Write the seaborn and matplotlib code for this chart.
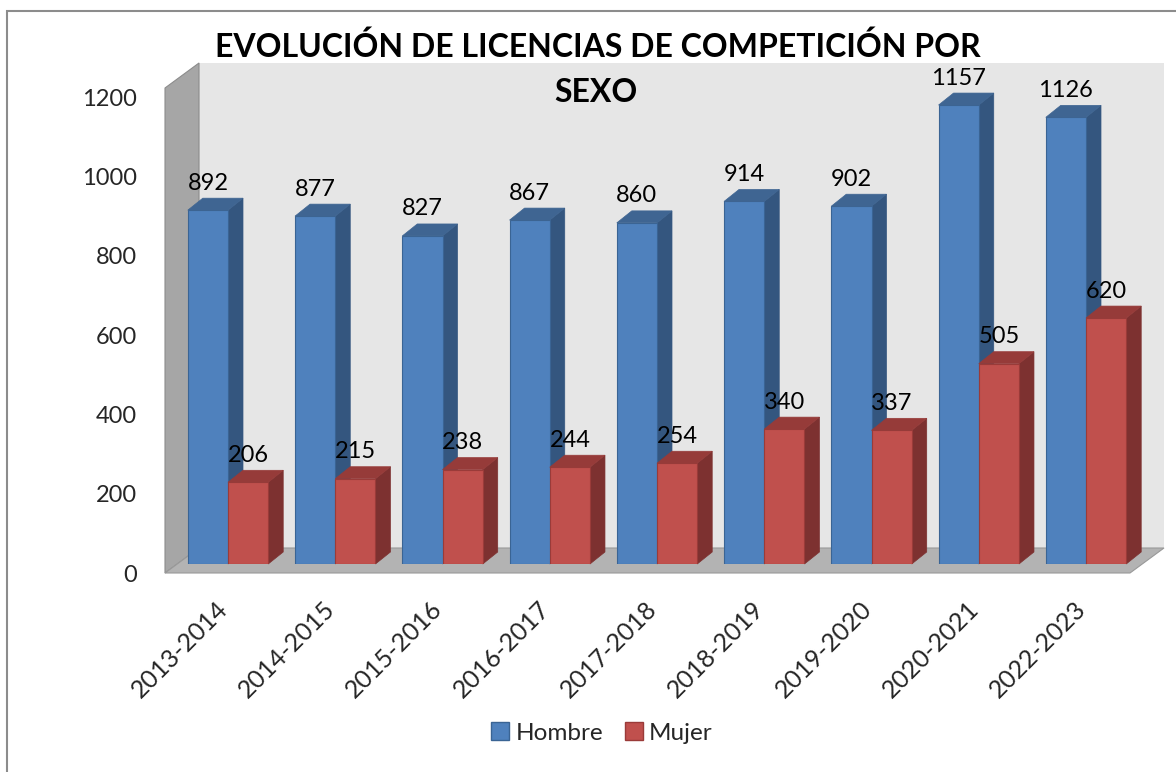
import matplotlib
matplotlib.use("Agg")
import matplotlib.pyplot as plt
import matplotlib.transforms as mtransforms
from matplotlib.patches import Polygon, Rectangle, Patch
import seaborn as sns
import pandas as pd

seasons = ["2013-2014", "2014-2015", "2015-2016", "2016-2017", "2017-2018",
           "2018-2019", "2019-2020", "2020-2021", "2022-2023"]
hombre = [892, 877, 827, 867, 860, 914, 902, 1157, 1126]
mujer = [206, 215, 238, 244, 254, 340, 337, 505, 620]
series = ["Hombre", "Mujer"]
yticks = [0, 200, 400, 600, 800, 1000, 1200]
title_lines = ["EVOLUCIÓN DE LICENCIAS DE COMPETICIÓN POR", "SEXO"]

df = pd.DataFrame({
    "Temporada": seasons * 2,
    "Sexo": ["Hombre"] * len(seasons) + ["Mujer"] * len(seasons),
    "Licencias": hombre + mujer,
})

sns.set_theme(style="white")
plt.rcParams["font.family"] = ["Lato", "DejaVu Sans"]

W, H = 1176, 772
fig = plt.figure(figsize=(W / 100, H / 100), dpi=100)
fig.patch.set_facecolor("white")

# axes in pixel layout
left_px, right_px, base_px, top_px = 165, 1130, 564, 88
ax = fig.add_axes([left_px / W, 1 - base_px / H, (right_px - left_px) / W, (base_px - top_px) / H])
ax.set_facecolor("none")

front = {"Hombre": "#4F81BD", "Mujer": "#C0504D"}
edge = {"Hombre": "#3A6494", "Mujer": "#9A3B39"}
side = {"Hombre": "#34567F", "Mujer": "#7D3130"}
topc = {"Hombre": "#3F6592", "Mujer": "#963B39"}

sns.barplot(data=df, x="Temporada", y="Licencias", hue="Sexo",
            palette=front, width=0.75, ax=ax, legend=False,
            saturation=1, zorder=2, edgecolor="none")

px_per_x = 107.25
xl = -(228 - left_px) / px_per_x
xr = (right_px - 228) / px_per_x
ax.set_xlim(xl, xr)
ax.set_ylim(0, 1200)
py = (base_px - top_px) / 1200.0  # px per value unit

# wall / floor depth
wdx, wdy = 34 / px_per_x, 25 / py
floor_front = -9 / py

# back wall
ax.add_patch(Polygon([(xl + wdx, floor_front + wdy), (xr + wdx, floor_front + wdy),
                      (xr + wdx, 1200 + wdy), (xl + wdx, 1200 + wdy)],
                     closed=True, facecolor="#E6E6E6", edgecolor="none",
                     clip_on=False, zorder=0))
# side wall
ax.add_patch(Polygon([(xl, floor_front), (xl + wdx, floor_front + wdy),
                      (xl + wdx, 1200 + wdy), (xl, 1200)],
                     closed=True, facecolor="#A6A6A6", edgecolor="#8C8C8C", lw=0.8,
                     clip_on=False, zorder=0.5))
# floor
ax.add_patch(Polygon([(xl, floor_front), (xr, floor_front),
                      (xr + wdx, floor_front + wdy), (xl + wdx, floor_front + wdy)],
                     closed=True, facecolor="#B3B3B3", edgecolor="#999999", lw=0.8,
                     clip_on=False, zorder=0.6))

bdx, bdy = 15 / px_per_x, 12 / py
for container, name in zip(ax.containers, series):
    for bar in container:
        x0 = bar.get_x()
        w = bar.get_width()
        h = bar.get_height()
        bar.set_edgecolor(edge[name])
        bar.set_linewidth(0.8)
        # side face
        ax.add_patch(Polygon([(x0 + w, 0), (x0 + w + bdx, bdy), (x0 + w + bdx, h + bdy), (x0 + w, h)],
                             closed=True, facecolor=side[name], edgecolor=side[name], lw=0.5,
                             zorder=1.9, clip_on=False))
        # top face
        ax.add_patch(Polygon([(x0, h), (x0 + w, h), (x0 + w + bdx, h + bdy), (x0 + bdx, h + bdy)],
                             closed=True, facecolor=topc[name], edgecolor=topc[name], lw=0.5,
                             zorder=2.1, clip_on=False))
        ax.text(x0 + w / 2, h + 68, f"{int(round(h))}", ha="center", va="center",
                fontsize=17, color="black", zorder=5, clip_on=False)

for s in ax.spines.values():
    s.set_visible(False)
ax.grid(False)
ax.set_xlabel("")
ax.set_ylabel("")

ax.set_yticks(yticks)
ax.set_yticklabels([str(v) for v in yticks], fontsize=17)
ax.tick_params(axis="y", length=0, pad=20)
off_y = mtransforms.ScaledTranslation(0, -9 / 100, fig.dpi_scale_trans)
for lab in ax.get_yticklabels():
    lab.set_transform(lab.get_transform() + off_y)

ax.set_xticks(range(len(seasons)))
ax.set_xticklabels(seasons, fontsize=18, rotation=45, ha="right", rotation_mode="anchor")
ax.tick_params(axis="x", length=0, pad=24)
off_x = mtransforms.ScaledTranslation(-12 / 100, 0, fig.dpi_scale_trans)
for lab in ax.get_xticklabels():
    lab.set_transform(lab.get_transform() + off_x)

# title
fig.text(598 / W, 1 - 47 / H, title_lines[0], ha="center", va="center",
         fontsize=23, fontweight="bold", color="black")
fig.text(596 / W, 1 - 92 / H, title_lines[1], ha="center", va="center",
         fontsize=23, fontweight="bold", color="black")

# legend
handles = [Patch(facecolor=front[n], edgecolor=edge[n], label=n) for n in series]
fig.legend(handles=handles, loc="center", bbox_to_anchor=(602 / W, 1 - 733 / H),
           ncol=2, frameon=False, fontsize=17.5, handlelength=0.75, handleheight=0.75,
           handletextpad=0.25, columnspacing=0.9)

# chart border
fig.patches.append(Rectangle((7 / W, -0.05), 1.05, 1 - 11 / H + 0.05,
                             transform=fig.transFigure, fill=False,
                             edgecolor="#8C8C8C", lw=1.5))

fig.savefig("out.png", dpi=100)
